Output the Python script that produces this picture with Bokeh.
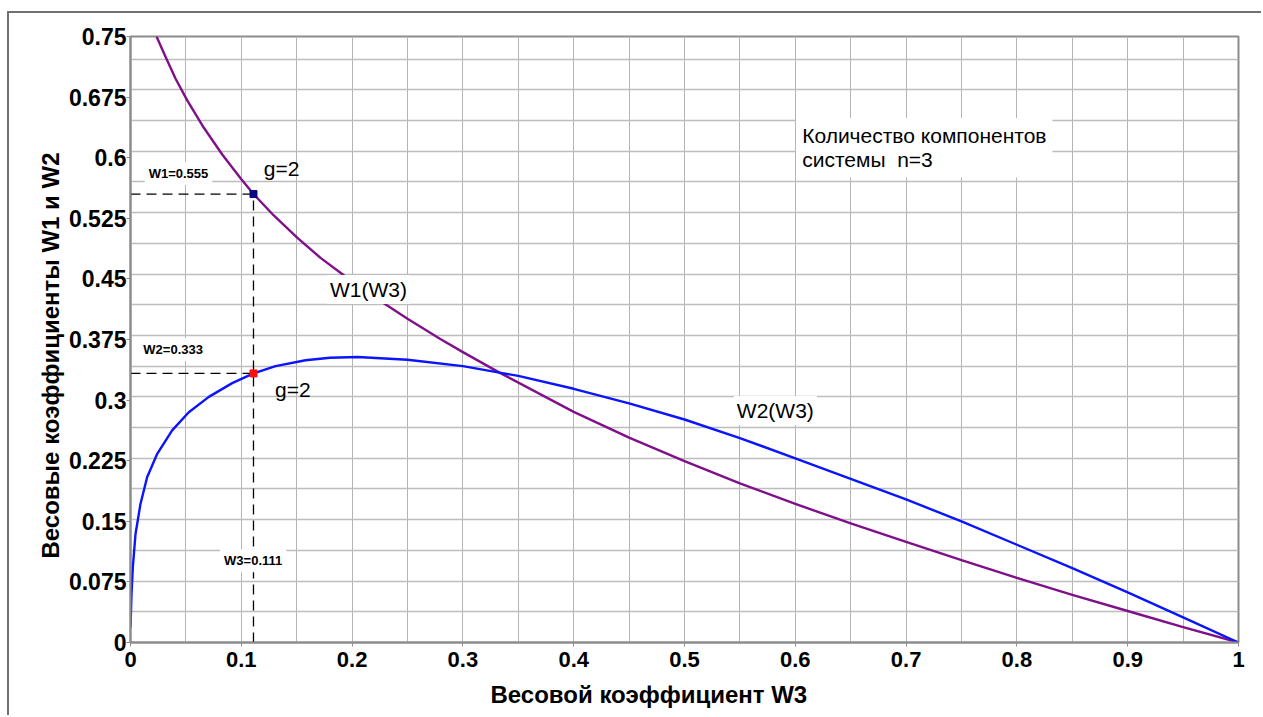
import math
from bokeh.plotting import figure
from bokeh.models import Range1d, FixedTicker, Label, Title
from bokeh.embed import file_html
from bokeh.resources import INLINE

# ---- data ----
w1_w3 = [0.0235, 0.0316, 0.0406, 0.0512, 0.0662, 0.0828, 0.0993, 0.111, 0.1293, 0.1504,
         0.1715, 0.194, 0.22, 0.25, 0.28, 0.30, 0.333, 0.4, 0.45, 0.5, 0.55, 0.6, 0.65,
         0.7, 0.75, 0.8, 0.85, 0.9, 0.95, 1.0]
w1_vals = [0.750, 0.725, 0.698, 0.671, 0.637, 0.604, 0.5745, 0.555, 0.5285, 0.501,
           0.476, 0.453, 0.4276, 0.4006, 0.3754, 0.3594, 0.334, 0.2855, 0.2535, 0.2245, 0.197,
           0.1715, 0.1475, 0.1245, 0.102, 0.080, 0.059, 0.039, 0.019, 0.0]

w2_w3 = [0.0, 0.0009, 0.0021, 0.0045, 0.009, 0.015, 0.0241, 0.0376, 0.0526, 0.0707,
         0.0918, 0.111, 0.1309, 0.158, 0.18, 0.205, 0.25, 0.30, 0.333, 0.35, 0.40,
         0.45, 0.50, 0.55, 0.60, 0.65, 0.70, 0.75, 0.80, 0.85, 0.90, 0.95, 1.00]
w2_vals = [0.0186, 0.060, 0.093, 0.134, 0.1715, 0.2045, 0.2335, 0.2625, 0.285, 0.3040,
           0.321, 0.333, 0.342, 0.3493, 0.3524, 0.3534, 0.350, 0.342, 0.334, 0.330, 0.314,
           0.296, 0.276, 0.253, 0.228, 0.2025, 0.177, 0.150, 0.121, 0.092, 0.062, 0.031, 0.0]

# highlighted point (g=2)
g_w3 = [0.111]
g_w1 = [0.555]
g_w2 = [0.333]

x_ticks = [0, 0.1, 0.2, 0.3, 0.4, 0.5, 0.6, 0.7, 0.8, 0.9, 1]
x_tick_labels = ["0", "0.1", "0.2", "0.3", "0.4", "0.5", "0.6", "0.7", "0.8", "0.9", "1"]
y_ticks = [0, 0.075, 0.15, 0.225, 0.3, 0.375, 0.45, 0.525, 0.6, 0.675, 0.75]
y_tick_labels = ["0", "0.075", "0.15", "0.225", "0.3", "0.375", "0.45", "0.525", "0.6", "0.675", "0.75"]

x_label = "Весовой коэффициент W3"
y_label = "Весовые коэффициенты W1 и W2"
note_text = "Количество компонентов\nсистемы\u00a0\u00a0n=3"

p = figure(width=1254, height=704, output_backend="svg", toolbar_location=None,
           x_range=Range1d(0, 1), y_range=Range1d(0, 0.75),
           min_border_left=121, min_border_right=25, min_border_top=23, min_border_bottom=75)
p.styles = {"margin-left": "7px", "margin-top": "11px",
            "border-top": "2px solid #707070", "border-left": "2px solid #707070"}

p.background_fill_color = "white"
p.border_fill_color = "white"
p.outline_line_color = "#8c8c8c"
p.outline_line_width = 2

# grid
p.xgrid.ticker = FixedTicker(ticks=[round(0.05 * k, 3) for k in range(1, 20)])
p.xgrid.grid_line_color = "#b4b4b4"
p.xgrid.grid_line_width = 1
p.ygrid.ticker = FixedTicker(ticks=[round(0.038 * k, 4) for k in range(1, 20)])
p.ygrid.grid_line_color = "#bdbdbd"
p.ygrid.grid_line_width = 1.6

FONT = "Liberation Sans"

# axes
for ax, size in ((p.xaxis[0], "22px"), (p.yaxis[0], "23px")):
    ax.axis_line_color = "#8c8c8c"
    ax.axis_line_width = 2
    ax.major_tick_line_color = "#8c8c8c"
    ax.major_tick_out = 4
    ax.major_tick_in = 0
    ax.minor_tick_line_color = None
    ax.major_label_text_font = FONT
    ax.major_label_text_font_style = "bold"
    ax.major_label_text_font_size = size
    ax.major_label_text_color = "black"

p.xaxis.ticker = FixedTicker(ticks=x_ticks)
p.xaxis.major_label_overrides = dict(zip(x_ticks, x_tick_labels))
p.xaxis.major_label_standoff = 5
p.yaxis.ticker = FixedTicker(ticks=y_ticks)
p.yaxis.major_label_overrides = dict(zip(y_ticks, y_tick_labels))
p.yaxis.major_label_standoff = 0

# guide lines (dashed)
p.segment(x0=[0], y0=g_w1, x1=g_w3, y1=g_w1, line_color="black", line_width=1.3, line_dash="10 6")
p.segment(x0=[0], y0=g_w2, x1=g_w3, y1=g_w2, line_color="black", line_width=1.3, line_dash="10 6")
p.segment(x0=g_w3, y0=[0], x1=g_w3, y1=g_w1, line_color="black", line_width=1.3, line_dash="10 6")

# curves
p.line(w1_w3, w1_vals, line_color="#80108a", line_width=2.4, line_join="round")
p.line(w2_w3, w2_vals, line_color="#0a14ff", line_width=2.4, line_join="round")

# markers
p.scatter(g_w3, g_w1, marker="square", size=7, fill_color="#0a0a80", line_color="#0a0a80")
p.scatter(g_w3, g_w2, marker="square", size=7, fill_color="#ff1010", line_color="#ff1010")


def lab(x, y, text, size, bold=False, bg=None, align="center", baseline="middle", pad=0, lh=1.2):
    kw = {}
    if bg:
        kw["background_fill_color"] = bg
    l = Label(x=x, y=y, text=text, text_font=FONT, text_font_size=size,
              text_font_style="bold" if bold else "normal", text_color="black",
              text_align=align, text_baseline=baseline, padding=pad, text_line_height=lh, **kw)
    p.add_layout(l)

lab(0.1363, 0.587, "g=2", "21px")
lab(0.1466, 0.313, "g=2", "21px")
lab(0.2148, 0.4369, "W1(W3)", "21px", bg="white", pad=3)
lab(0.582, 0.287, "W2(W3)", "21px", bg="white", pad=3)
lab(0.0433, 0.5805, "W1=0.555", "13px", bold=True, bg="white", pad=4)
lab(0.0385, 0.3627, "W2=0.333", "13px", bold=True, bg="white", pad=4)
lab(0.1107, 0.1012, "W3=0.111", "13px", bold=True, bg="white", pad=4)
lab(0.6008, 0.649, note_text, "21px", bg="white", align="left", baseline="top", pad=6, lh=1.06)

# axis titles
p.add_layout(Title(text=x_label, align="left", offset=360, text_font=FONT,
                   text_font_size="24px", text_font_style="bold", text_color="black",
                   standoff=19), "below")
p.add_layout(Title(text=y_label, align="left", offset=84, text_font=FONT,
                   text_font_size="24px", text_font_style="bold", text_color="black",
                   standoff=4), "left")

open("out.html", "w").write(file_html(p, INLINE))
